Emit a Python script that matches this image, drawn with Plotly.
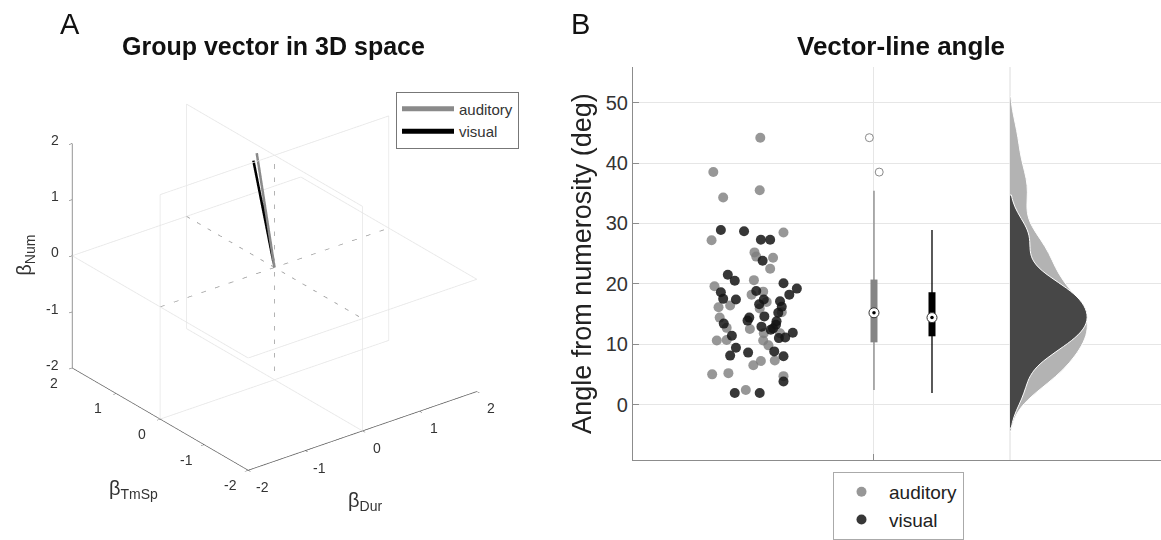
import plotly.graph_objects as go

# ---------------- Panel A: group vectors in (Dur, TmSp, Num) beta space
groups = ["auditory", "visual"]
vec_dur = [-0.08, -0.10]
vec_tmsp = [0.30, 0.35]
vec_num = [1.93, 1.78]
vec_colors = ["#8a8a8a", "#000000"]
axis_ticks_3d = [-2, -1, 0, 1, 2]

# ---------------- Panel B: vector-line angle per participant
aud_x = [-0.96, -1.77, -0.97, -1.60, -1.80, -0.56, -1.06, -1.03, -0.74, -0.79,
         -1.07, -1.75, -0.91, -1.11, -1.68, -1.48, -0.85, -1.66, -0.97, -1.54,
         -1.14, -0.90, -1.71, -1.54, -0.91, -0.82, -0.59, -0.62, -1.08, -0.95,
         -0.71, -1.79, -1.51, -0.56, -1.21]
aud_angle = [44.2, 38.5, 35.5, 34.3, 27.2, 28.5, 25.2, 24.5, 24.3, 22.5,
             20.6, 19.6, 18.7, 18.2, 16.1, 16.4, 17.0, 14.4, 15.9, 12.7,
             12.5, 11.8, 10.6, 10.7, 10.6, 9.8, 15.3, 11.8, 6.5, 7.2,
             7.3, 5.0, 5.2, 4.7, 2.4]
vis_x = [-1.64, -1.24, -0.95, -0.79, -0.92, -1.52, -1.40, -0.56, -0.33, -0.46,
         -1.64, -1.03, -1.60, -1.38, -0.90, -0.98, -0.62, -0.59, -0.65, -1.15,
         -0.89, -1.18, -1.59, -0.68, -0.94, -0.69, -0.74, -0.78, -1.45, -0.64,
         -0.53, -0.40, -1.38, -0.72, -1.17, -1.48, -0.56, -0.56, -1.40, -0.97]
vis_angle = [28.9, 28.7, 27.3, 27.3, 23.8, 21.5, 20.5, 20.1, 19.2, 18.2,
             18.6, 18.8, 17.5, 17.4, 17.4, 16.6, 17.1, 16.2, 15.2, 14.4,
             14.6, 13.9, 13.4, 13.8, 12.9, 13.2, 12.6, 12.4, 11.4, 11.0,
             11.1, 11.9, 9.4, 8.8, 8.6, 8.1, 8.0, 3.8, 1.9, 1.9]

# compact box summaries (auditory, visual)
box_pos = [1, 2]
box_lo = [2.4, 1.9]
box_q1 = [10.3, 11.3]
box_med = [15.2, 14.4]
box_q3 = [20.7, 18.6]
box_hi = [35.4, 28.9]
box_colors = ["#858585", "#000000"]
aud_out_x = [0.92, 1.09]
aud_out = [44.2, 38.5]

y_ticks = [0, 10, 20, 30, 40, 50]
violin_pos = 3.345

FONT = "Liberation Sans"
GRID = "#e6e6e6"
AXLINE = "#8c8c8c"
TICKFONT3D = dict(family=FONT, size=14, color="#333333")
TITLEFONT3D = dict(family=FONT, size=20, color="#333333")

fig = go.Figure()

# ---- 3D panel: reference planes through the origin (light outlines)
L = 2
px, py, pz = [], [], []
square = [(-L, -L), (L, -L), (L, L), (-L, L), (-L, -L)]
for a, b in square:            # plane Dur = 0
    px.append(0); py.append(a); pz.append(b)
px.append(None); py.append(None); pz.append(None)
for a, b in square:            # plane TmSp = 0
    px.append(a); py.append(0); pz.append(b)
px.append(None); py.append(None); pz.append(None)
for a, b in square:            # plane Num = 0
    px.append(a); py.append(b); pz.append(0)
fig.add_trace(go.Scatter3d(x=px, y=py, z=pz, mode="lines",
                           line=dict(color="#e6e6e6", width=1.5),
                           showlegend=False, hoverinfo="skip"))

# dashed coordinate axes through the origin
fig.add_trace(go.Scatter3d(
    x=[-L, L, None, 0, 0, None, 0, 0],
    y=[0, 0, None, -L, L, None, 0, 0],
    z=[0, 0, None, 0, 0, None, -L, L],
    mode="lines", line=dict(color="#9a9a9a", width=1.5, dash="dash"),
    showlegend=False, hoverinfo="skip"))

# group vectors
for i, g in enumerate(groups):
    fig.add_trace(go.Scatter3d(
        x=[0, vec_dur[i]], y=[0, vec_tmsp[i]], z=[0, vec_num[i]],
        mode="lines", line=dict(color=vec_colors[i], width=5),
        name=g, legend="legend"))

# screen-aligned tick labels and axis titles for the 3D box
scene_ann = []
for t in axis_ticks_3d:
    # Num axis on the left vertical edge
    scene_ann.append(dict(x=-L, y=L, z=t, text=str(t), showarrow=False,
                          xanchor="right", yanchor="middle", xshift=-11, yshift=3,
                          font=TICKFONT3D))
    # TmSp axis along the front-left floor edge
    scene_ann.append(dict(x=-L, y=t, z=-L, text=str(t), showarrow=False,
                          xanchor="center", yanchor="middle", xshift=-18, yshift=-15,
                          font=TICKFONT3D))
    # Dur axis along the front-right floor edge
    scene_ann.append(dict(x=t, y=-L, z=-L, text=str(t), showarrow=False,
                          xanchor="center", yanchor="middle", xshift=14, yshift=-17,
                          font=TICKFONT3D))
scene_ann += [
    dict(x=-L, y=L, z=0, text="β<sub>Num</sub>", showarrow=False, textangle=-90,
         xanchor="center", yanchor="middle", xshift=-47, yshift=0, font=TITLEFONT3D),
    dict(x=-L, y=0, z=-L, text="β<sub>TmSp</sub>", showarrow=False,
         xanchor="center", yanchor="middle", xshift=-27, yshift=-70, font=TITLEFONT3D),
    dict(x=0, y=-L, z=-L, text="β<sub>Dur</sub>", showarrow=False,
         xanchor="center", yanchor="middle", xshift=2, yshift=-71, font=TITLEFONT3D),
]

# ---- Panel B
# jittered individual angles
fig.add_trace(go.Scatter(x=aud_x, y=aud_angle, mode="markers", name="auditory",
                         marker=dict(color="rgba(125,125,125,0.8)", size=10),
                         legend="legend2", xaxis="x", yaxis="y"))
fig.add_trace(go.Scatter(x=vis_x, y=vis_angle, mode="markers", name="visual",
                         marker=dict(color="rgba(20,20,20,0.85)", size=10),
                         legend="legend2", xaxis="x", yaxis="y"))

# compact boxplots
for i in range(2):
    p = box_pos[i]
    fig.add_trace(go.Scatter(x=[p, p], y=[box_lo[i], box_hi[i]], mode="lines",
                             line=dict(color=box_colors[i], width=1.3),
                             showlegend=False, hoverinfo="skip"))
    fig.add_trace(go.Scatter(x=[p, p], y=[box_q1[i], box_q3[i]], mode="lines",
                             line=dict(color=box_colors[i], width=7),
                             showlegend=False, hoverinfo="skip"))
    fig.add_trace(go.Scatter(x=[p], y=[box_med[i]], mode="markers",
                             marker=dict(color="white", size=10,
                                         line=dict(color="#333", width=1)),
                             showlegend=False, hoverinfo="skip"))
    fig.add_trace(go.Scatter(x=[p], y=[box_med[i]], mode="markers",
                             marker=dict(color="black", size=3.5),
                             showlegend=False, hoverinfo="skip"))
fig.add_trace(go.Scatter(x=aud_out_x, y=aud_out, mode="markers",
                         marker=dict(symbol="circle-open", color="#8a8a8a", size=8,
                                     line=dict(width=1)),
                         showlegend=False, hoverinfo="skip"))

# half violins (kernel densities)
fig.add_trace(go.Violin(x=[violin_pos] * len(aud_angle), y=aud_angle, side="positive",
                        width=2.66, bandwidth=3.4, spanmode="soft", scalemode="width",
                        fillcolor="#b3b3b3", line=dict(color="white", width=1),
                        points=False, box_visible=False, meanline_visible=False,
                        opacity=1, showlegend=False, hoverinfo="skip"))
fig.add_trace(go.Violin(x=[violin_pos] * len(vis_angle), y=vis_angle, side="positive",
                        width=2.66, bandwidth=2.9, spanmode="soft", scalemode="width",
                        fillcolor="#474747", line=dict(color="white", width=1),
                        points=False, box_visible=False, meanline_visible=False,
                        opacity=1, showlegend=False, hoverinfo="skip"))

axis3d = dict(range=[-2, 2], tickvals=axis_ticks_3d, showgrid=False, zeroline=False,
              showbackground=False, showline=True, linecolor="#555555", linewidth=1.5,
              ticks="outside", ticklen=4, tickcolor="#555555", showticklabels=False,
              title=dict(text=""), showspikes=False, autorange=False)

EYE = 2.0
BOX = 1.22
SHIFT = 4 / 540
fig.update_layout(
    width=1161, height=540,
    margin=dict(l=0, r=0, t=0, b=0),
    paper_bgcolor="white", plot_bgcolor="white",
    font=dict(family=FONT, color="#222222"),
    violinmode="overlay", violingap=0,
    scene=dict(
        domain=dict(x=[0.0, 0.473], y=[0.06 - SHIFT, 0.95 - SHIFT]),
        xaxis=axis3d, yaxis=axis3d, zaxis=axis3d,
        aspectmode="manual", aspectratio=dict(x=BOX, y=BOX, z=0.87 * BOX),
        camera=dict(eye=dict(x=-0.545 * EYE, y=-0.708 * EYE, z=0.447 * EYE),
                    center=dict(x=0, y=0, z=0), up=dict(x=0, y=0, z=1),
                    projection=dict(type="orthographic")),
        annotations=scene_ann,
    ),
    xaxis=dict(domain=[0.5452, 1.0], range=[-3.155, 5.948], tickvals=[1], ticktext=[""],
               ticks="inside", ticklen=6, tickcolor=AXLINE, showgrid=True, gridcolor=GRID,
               zeroline=False, showline=True, linecolor=AXLINE, linewidth=1),
    yaxis=dict(domain=[0.1352, 0.874], range=[-9.2, 55.9], tickvals=y_ticks,
               ticks="inside", ticklen=6, tickcolor=AXLINE, showgrid=True, gridcolor=GRID,
               zeroline=False, showline=True, linecolor=AXLINE, linewidth=1,
               tickfont=dict(family=FONT, size=20, color="#333333"),
               title=dict(text="Angle from numerosity (deg)", standoff=6,
                          font=dict(family=FONT, size=27, color="#222222"))),
    legend=dict(x=396 / 1161, y=1 - 93 / 540, xanchor="left", yanchor="top",
                bgcolor="white", bordercolor="#777777", borderwidth=1,
                font=dict(family=FONT, size=15, color="#333333"),
                itemwidth=52, tracegroupgap=0),
    legend2=dict(x=833 / 1161, y=1 - 479 / 540, xanchor="left", yanchor="top",
                 bgcolor="white", bordercolor="#aaaaaa", borderwidth=1,
                 font=dict(family=FONT, size=19, color="#222222"),
                 itemwidth=45, tracegroupgap=0),
    shapes=[dict(type="line", xref="x", yref="paper", x0=violin_pos, x1=violin_pos,
                 y0=0.1352, y1=0.874, line=dict(color="#dcdcdc", width=1), layer="below")],
    annotations=[
        dict(text="A", x=70 / 1161, y=1 - 24 / 540, xref="paper", yref="paper",
             xanchor="center", yanchor="middle",
             showarrow=False, font=dict(family=FONT, size=29, color="#111")),
        dict(text="B", x=580 / 1161, y=1 - 24 / 540, xref="paper", yref="paper",
             xanchor="center", yanchor="middle",
             showarrow=False, font=dict(family=FONT, size=29, color="#111")),
        dict(text="<b>Group vector in 3D space</b>", x=273.5 / 1161, y=1 - 47 / 540,
             xref="paper", yref="paper", xanchor="center", yanchor="middle",
             showarrow=False, font=dict(family=FONT, size=25, color="#111")),
        dict(text="<b>Vector-line angle</b>", x=901 / 1161, y=1 - 47 / 540,
             xref="paper", yref="paper", xanchor="center", yanchor="middle",
             showarrow=False, font=dict(family=FONT, size=26, color="#111")),
    ],
)

fig.write_html("out.html", config={"displayModeBar": False})
